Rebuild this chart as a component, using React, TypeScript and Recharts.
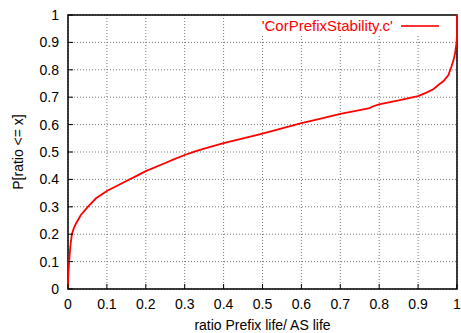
import React from 'react';
import {
  LineChart,
  Line,
  XAxis,
  YAxis,
  CartesianGrid,
  ReferenceArea,
  Legend,
} from 'recharts';

// Cumulative distribution of prefix-life / AS-life ratios
const ratioValues = [
  0, 0.0005, 0.0015, 0.003, 0.005, 0.007, 0.01, 0.015, 0.021, 0.033, 0.051, 0.072,
  0.1, 0.125, 0.15, 0.175, 0.2, 0.25, 0.275, 0.3, 0.325, 0.35, 0.4, 0.45, 0.5,
  0.55, 0.6, 0.65, 0.7, 0.75, 0.775, 0.785, 0.8, 0.85, 0.9, 0.92, 0.939, 0.956,
  0.965, 0.978, 0.986, 0.991, 0.995, 0.999, 1, 1,
];
const cdfValues = [
  0, 0.04, 0.07, 0.1, 0.14, 0.167, 0.2, 0.222, 0.24, 0.27, 0.3, 0.331,
  0.358, 0.376, 0.394, 0.412, 0.43, 0.46, 0.475, 0.489, 0.501, 0.512, 0.532,
  0.55, 0.567, 0.586, 0.605, 0.622, 0.639, 0.653, 0.66, 0.667, 0.674, 0.688,
  0.704, 0.716, 0.729, 0.749, 0.758, 0.781, 0.813, 0.836, 0.86, 0.9, 0.93, 1,
];
const xTicks = [0, 0.1, 0.2, 0.3, 0.4, 0.5, 0.6, 0.7, 0.8, 0.9, 1];
const yTicks = [0, 0.1, 0.2, 0.3, 0.4, 0.5, 0.6, 0.7, 0.8, 0.9, 1];
const seriesName = "'CorPrefixStability.c'";
const xLabel = 'ratio Prefix life/ AS life';
const yLabel = 'P[ratio <= x]';

const data = ratioValues.map((x, i) => ({ x, y: cdfValues[i] }));

const FONT = '"Liberation Sans", Arial, Helvetica, sans-serif';
const TICK_LEN = 5;
const RED = '#ff0000';

const BottomTick = (props: any) => {
  const { x, y, payload } = props;
  return (
    <g>
      <line x1={x} y1={y} x2={x} y2={y - TICK_LEN} stroke="#000" strokeWidth={1} />
      <text
        x={x}
        y={y + 15}
        textAnchor="middle"
        dominantBaseline="central"
        fontFamily={FONT}
        fontSize={14}
        fill="#000"
      >
        {payload.value}
      </text>
    </g>
  );
};

const TopTick = (props: any) => {
  const { x, y } = props;
  return <line x1={x} y1={y} x2={x} y2={y + TICK_LEN} stroke="#000" strokeWidth={1} />;
};

const LeftTick = (props: any) => {
  const { x, y, payload } = props;
  return (
    <g>
      <line x1={x} y1={y} x2={x + TICK_LEN} y2={y} stroke="#000" strokeWidth={1} />
      <text
        x={x - 9}
        y={y}
        textAnchor="end"
        dominantBaseline="central"
        fontFamily={FONT}
        fontSize={14}
        fill="#000"
      >
        {payload.value}
      </text>
    </g>
  );
};

const RightTick = (props: any) => {
  const { x, y } = props;
  return <line x1={x} y1={y} x2={x - TICK_LEN} y2={y} stroke="#000" strokeWidth={1} />;
};

const XTitle = (props: any) => {
  const vb = props.viewBox || {};
  return (
    <text
      x={vb.x + vb.width / 2}
      y={vb.y + 36}
      textAnchor="middle"
      dominantBaseline="central"
      fontFamily={FONT}
      fontSize={14}
      fill="#000"
    >
      {xLabel}
    </text>
  );
};

const YTitle = (props: any) => {
  const vb = props.viewBox || {};
  const cx = 18;
  const cy = vb.y + vb.height / 2;
  return (
    <text
      x={cx}
      y={cy}
      transform={`rotate(-90, ${cx}, ${cy})`}
      textAnchor="middle"
      dominantBaseline="central"
      fontFamily={FONT}
      fontSize={14}
      fill="#000"
    >
      {yLabel}
    </text>
  );
};

const KeyContent = () => (
  <div style={{ position: 'relative', width: 461, height: 20 }}>
    <span
      style={{
        position: 'absolute',
        right: 68,
        top: 0,
        fontFamily: FONT,
        fontSize: 15,
        lineHeight: '18px',
        color: RED,
        whiteSpace: 'nowrap',
      }}
    >
      {seriesName}
    </span>
    <div
      style={{
        position: 'absolute',
        left: 401,
        top: 8,
        width: 38,
        height: 0,
        borderTop: `2px solid ${RED}`,
        opacity: 0.8,
      }}
    />
  </div>
);

export default function App() {
  return (
    <div style={{ position: 'absolute', left: 0, top: 0, background: '#fff' }}>
      <LineChart
        width={461}
        height={333}
        data={data}
        margin={{ top: 15, right: 4, bottom: 0, left: 0 }}
      >
        <CartesianGrid stroke="#777" strokeDasharray="1 2" strokeWidth={1} />
        <ReferenceArea
          x1={0.47}
          x2={1}
          y1={0.93}
          y2={1}
          fill="#fff"
          fillOpacity={1}
          stroke="none"
          ifOverflow="hidden"
        />
        <XAxis
          dataKey="x"
          type="number"
          domain={[0, 1]}
          ticks={xTicks}
          interval={0}
          height={44}
          tickSize={0}
          tickMargin={0}
          tickLine={false}
          axisLine={false}
          tick={<BottomTick />}
          label={<XTitle />}
        />
        <XAxis
          xAxisId="top"
          orientation="top"
          dataKey="x"
          type="number"
          domain={[0, 1]}
          ticks={xTicks}
          interval={0}
          height={0}
          tickSize={0}
          tickMargin={0}
          tickLine={false}
          axisLine={false}
          tick={<TopTick />}
        />
        <YAxis
          type="number"
          domain={[0, 1]}
          ticks={yTicks}
          interval={0}
          width={68}
          tickSize={0}
          tickMargin={0}
          tickLine={false}
          axisLine={false}
          tick={<LeftTick />}
          label={<YTitle />}
        />
        <YAxis
          yAxisId="right"
          orientation="right"
          type="number"
          domain={[0, 1]}
          ticks={yTicks}
          interval={0}
          width={0}
          tickSize={0}
          tickMargin={0}
          tickLine={false}
          axisLine={false}
          tick={<RightTick />}
        />
        <Legend
          verticalAlign="middle"
          layout="horizontal"
          content={<KeyContent />}
          wrapperStyle={{ left: 0, top: 17, width: 461, height: 20 }}
        />
        <Line
          type="linear"
          dataKey="y"
          stroke={RED}
          strokeWidth={1.8}
          dot={false}
          activeDot={false}
          isAnimationActive={false}
        />
        <ReferenceArea
          x1={0}
          x2={1}
          y1={0}
          y2={1}
          fill="none"
          stroke="#000"
          strokeWidth={1.5}
          ifOverflow="visible"
        />
      </LineChart>
    </div>
  );
}
